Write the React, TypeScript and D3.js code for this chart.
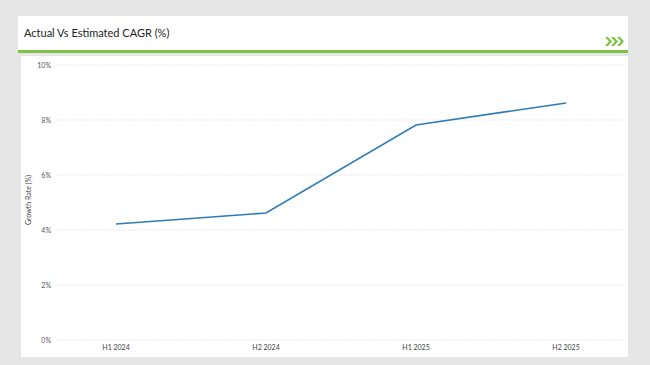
import React from "react";
import * as d3 from "d3";

const categories = ["H1 2024", "H2 2024", "H1 2025", "H2 2025"];
const growthValues = [4.22, 4.62, 7.82, 8.62];
const yTicks = [0, 2, 4, 6, 8, 10];

export default function App() {
  const W = 650, H = 365;
  const x = d3.scalePoint<string>().domain(categories).range([116, 566]);
  const y = d3.scaleLinear().domain([0, 10]).range([340, 65]);
  const line = d3.line<number>().x((_, i) => x(categories[i]) as number).y((d) => y(d));
  const font = "Lato, 'Open Sans', sans-serif";
  return (
    <svg width={W} height={H} style={{ position: "absolute", left: 0, top: 0 }}>
      <rect x={0} y={0} width={W} height={H} fill="#e6e6e6" />
      <rect x={18} y={16} width={610} height={36} fill="#ffffff" />
      <rect x={21} y={56} width={607} height={301} fill="#ffffff" />
      <text x={24} y={37} fontFamily={font} fontSize={11} fill="#222">Actual Vs Estimated CAGR (%)</text>
      <rect x={18} y={50} width={610} height={3} fill="#7dc242" />
      {[0, 6, 12].map((dx) => (
        <path key={dx} d={`M${605 + dx},37 L${609 + dx},41.5 L${605 + dx},46 L${608 + dx},46 L${612 + dx},41.5 L${608 + dx},37 Z`} fill="#7dc242" />
      ))}
      {yTicks.map((t) => (
        <g key={t}>
          <line x1={56} x2={625} y1={y(t)} y2={y(t)} stroke="#d9d9d9" strokeWidth={0.7} strokeDasharray="1.5,1.5" />
          <text x={51} y={y(t) + 2.5} textAnchor="end" fontFamily={font} fontSize={7} fill="#555">{t}%</text>
        </g>
      ))}
      {categories.map((c) => (
        <text key={c} x={x(c) as number} y={350} textAnchor="middle" fontFamily={font} fontSize={7} fill="#444">{c}</text>
      ))}
      <text transform={`translate(31,200) rotate(-90)`} textAnchor="middle" fontFamily={font} fontSize={7} fill="#444">Growth Rate (%)</text>
      <path d={line(growthValues) || ""} fill="none" stroke="#2e7bb8" strokeWidth={1.6} />
    </svg>
  );
}
